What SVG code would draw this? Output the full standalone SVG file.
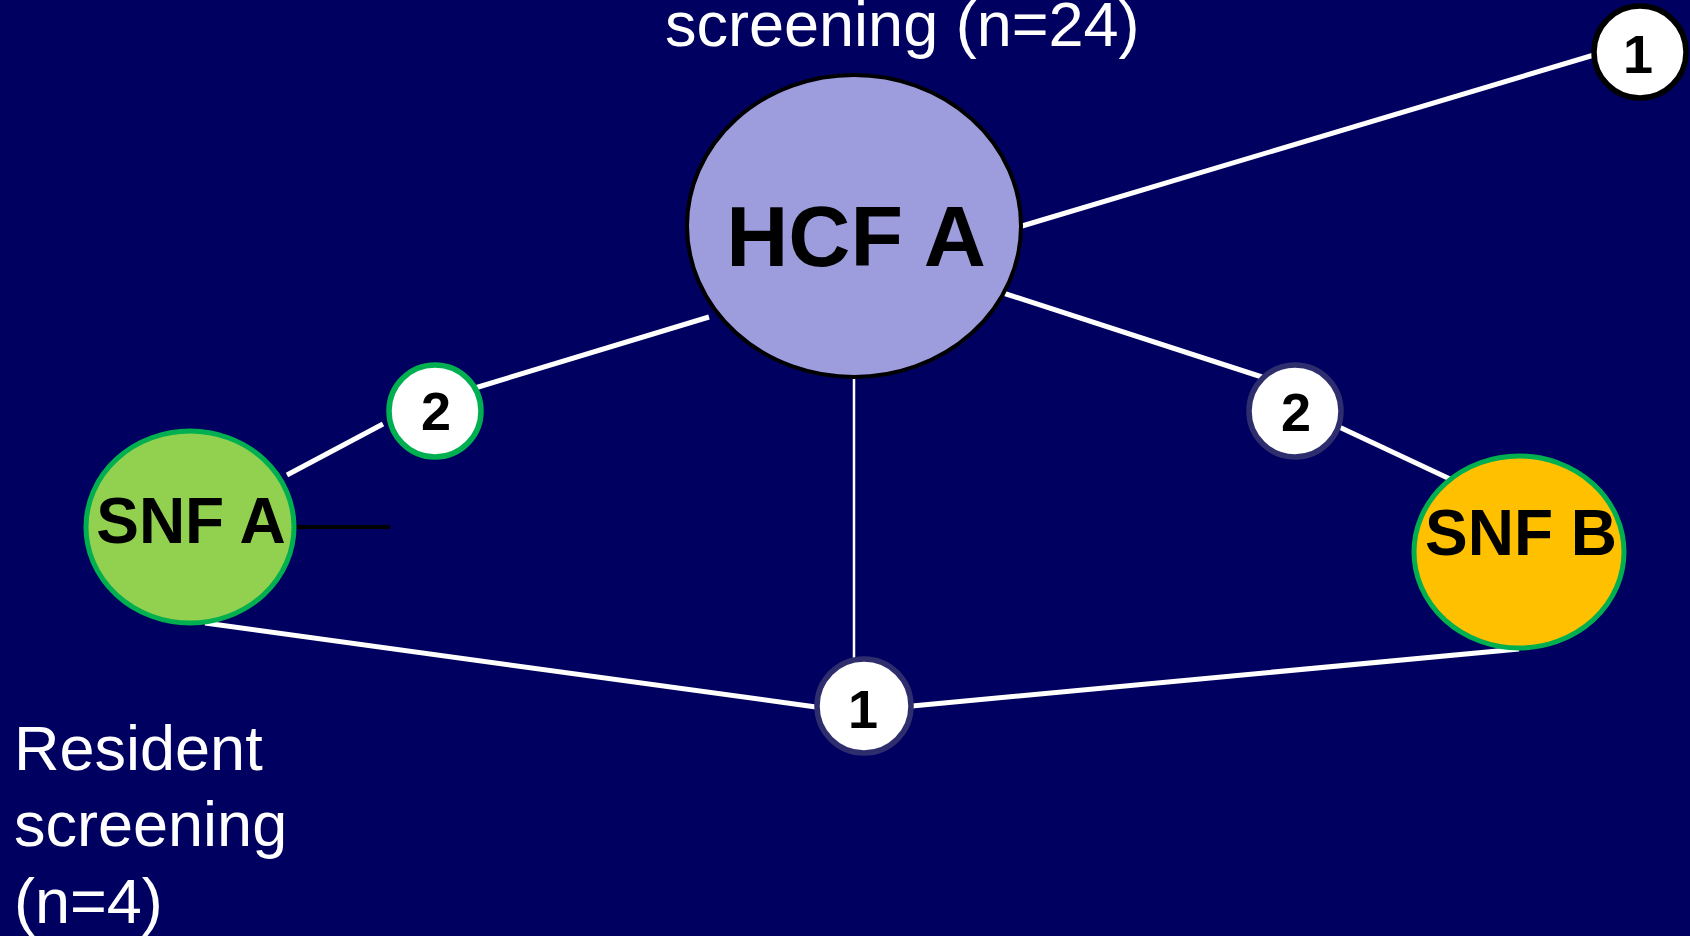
<svg xmlns="http://www.w3.org/2000/svg" width="1690" height="936" viewBox="0 0 1690 936">
<style>
.edge{stroke:#FFFFFF;stroke-width:5;fill:none}
.thin{stroke:#FFFFFF;stroke-width:2.5;fill:none}
.lbl{font-family:"Liberation Sans",Arial,sans-serif;fill:#FFFFFF;font-size:63px}
.big{font-family:"Liberation Sans",Arial,sans-serif;font-weight:bold;fill:#000000;text-anchor:middle}
.num{fill:#FFFFFF;stroke-width:5.5}
</style>
<rect x="0" y="0" width="1690" height="936" fill="#000060"/>
<g id="connectors">
<line class="edge" x1="1022" y1="226" x2="1594" y2="55"/>
<line class="edge" x1="709" y1="317" x2="475" y2="388"/>
<line class="edge" x1="383" y1="424" x2="287" y2="475"/>
<line class="edge" x1="1000" y1="292" x2="1262" y2="377"/>
<line class="edge" x1="1337" y1="426" x2="1450" y2="479"/>
<line class="thin" x1="854" y1="377" x2="854" y2="658"/>
<line class="edge" x1="205" y1="623" x2="816" y2="707"/>
<line class="edge" x1="912" y1="706" x2="1519" y2="649"/>
<line x1="295" y1="527" x2="390" y2="527" stroke="#000000" stroke-width="4"/>
</g>
<g id="label-top">
<text class="lbl" x="665" y="46">screening (n=24)</text>
</g>
<g id="label-resident">
<text class="lbl" x="14" y="770">Resident</text>
<text class="lbl" x="14" y="846">screening</text>
<text class="lbl" x="14" y="923">(n=4)</text>
</g>
<g id="hcf-a">
<ellipse cx="854" cy="226" rx="167" ry="151" fill="#9D9DDE" stroke="#000000" stroke-width="4"/>
<text class="big" x="856" y="266" font-size="86">HCF A</text>
</g>
<g id="snf-a">
<ellipse cx="190" cy="527" rx="104" ry="96" fill="#92D050" stroke="#00B050" stroke-width="5"/>
<text class="big" x="191" y="543" font-size="64">SNF A</text>
</g>
<g id="snf-b">
<ellipse cx="1519" cy="552" rx="105" ry="96" fill="#FFC000" stroke="#00B050" stroke-width="5"/>
<text class="big" x="1521" y="555" font-size="64">SNF B</text>
</g>
<g id="count-top-right">
<circle class="num" cx="1640" cy="52" r="46" stroke="#000000" stroke-width="6"/>
<text class="big" x="1638" y="73" font-size="54">1</text>
</g>
<g id="count-left">
<circle class="num" cx="435" cy="411" r="46" stroke="#00B050"/>
<text class="big" x="436" y="430" font-size="54">2</text>
</g>
<g id="count-right">
<circle class="num" cx="1295" cy="411" r="46" stroke="#2E2E6E"/>
<text class="big" x="1296" y="431" font-size="54">2</text>
</g>
<g id="count-bottom">
<circle class="num" cx="864" cy="706" r="47" stroke="#2E2E6E" stroke-width="6"/>
<text class="big" x="863" y="728" font-size="54">1</text>
</g>
</svg>
